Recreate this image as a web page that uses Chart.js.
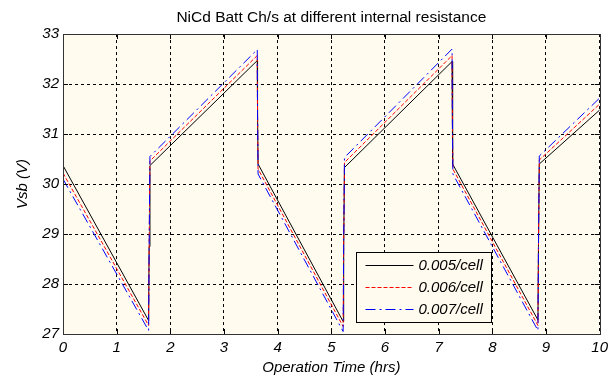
<!DOCTYPE html>
<html>
<head>
    <meta charset="utf-8">
    <title>NiCd Batt Ch/s at different internal resistance</title>
    <script src="https://cdn.jsdelivr.net/npm/chart.js@4.4.1/dist/chart.umd.min.js"></script>
    <style>
        html, body { margin: 0; padding: 0; background: #ffffff; }
        #battChart { display: block; }
    </style>
</head>
<body>
    <canvas id="battChart" width="613" height="377"></canvas>

    <script>
        // values
        const timeHrs = [0, 1.595, 1.605, 1.62, 3.62, 3.625, 3.635, 5.22, 5.23, 5.245, 7.25, 7.255, 7.265, 8.85, 8.86, 8.875, 10];
        const v005 = [30.37, 27.27, 28.75, 30.37, 32.47, 31.43, 30.40, 27.25, 28.75, 30.33, 32.45, 31.43, 30.40, 27.28, 28.75, 30.40, 31.48];
        const v006 = [30.22, 27.17, 28.75, 30.46, 32.57, 31.43, 30.30, 27.15, 28.75, 30.43, 32.57, 31.43, 30.30, 27.17, 28.75, 30.48, 31.60];
        const v007 = [30.10, 27.07, 28.75, 30.55, 32.69, 31.43, 30.20, 27.05, 28.75, 30.53, 32.70, 31.43, 30.20, 27.07, 28.75, 30.56, 31.72];
        const seriesLabels = ['0.005/cell', '0.006/cell', '0.007/cell'];
        const xTicks = [0, 1, 2, 3, 4, 5, 6, 7, 8, 9, 10];
        const yTicks = [27, 28, 29, 30, 31, 32, 33];

        const FONT = '"Liberation Sans", Arial, Helvetica, sans-serif';
        const PLOT_BG = '#fffbee';

        function toPoints(ys) {
            return ys.map((y, i) => ({ x: timeHrs[i], y: y }));
        }

        // beige plot background, box with inside ticks, legend inside the plot
        const matlabLook = {
            id: 'matlabLook',
            beforeDraw(chart) {
                const a = chart.chartArea;
                const ctx = chart.ctx;
                ctx.save();
                ctx.fillStyle = PLOT_BG;
                ctx.fillRect(a.left, a.top, a.right - a.left, a.bottom - a.top);
                ctx.restore();
            },
            afterDatasetsDraw(chart) {
                const a = chart.chartArea;
                const ctx = chart.ctx;
                const xs = chart.scales.x;
                const ys = chart.scales.y;
                ctx.save();
                ctx.setLineDash([]);
                ctx.strokeStyle = '#000';
                ctx.lineWidth = 1;
                ctx.beginPath();
                xs.ticks.forEach(t => {
                    const px = Math.round(xs.getPixelForValue(t.value)) + 0.5;
                    ctx.moveTo(px, a.bottom); ctx.lineTo(px, a.bottom - 5);
                    ctx.moveTo(px, a.top); ctx.lineTo(px, a.top + 5);
                });
                ys.ticks.forEach(t => {
                    const py = Math.round(ys.getPixelForValue(t.value)) + 0.5;
                    ctx.moveTo(a.left, py); ctx.lineTo(a.left + 5, py);
                    ctx.moveTo(a.right, py); ctx.lineTo(a.right - 5, py);
                });
                ctx.stroke();
                ctx.strokeStyle = '#333';
                ctx.strokeRect(Math.round(a.left) + 0.5, Math.round(a.top) + 0.5,
                    Math.round(a.right - a.left), Math.round(a.bottom - a.top));

                // legend box
                const bx = Math.round(a.right - 244) + 0.5;
                const by = Math.round(a.bottom - 82) + 0.5;
                const bw = 135, bh = 70;
                ctx.fillStyle = PLOT_BG;
                ctx.fillRect(bx, by, bw, bh);
                ctx.strokeStyle = '#000';
                ctx.strokeRect(bx, by, bw, bh);
                ctx.font = 'italic 15px ' + FONT;
                ctx.textBaseline = 'middle';
                ctx.textAlign = 'left';
                chart.data.datasets.forEach((ds, i) => {
                    const ly = Math.round(by + 12 + i * 22) + 0.5;
                    ctx.strokeStyle = ds.borderColor;
                    ctx.lineWidth = 1;
                    ctx.setLineDash(ds.borderDash || []);
                    ctx.beginPath();
                    ctx.moveTo(bx + 9, ly);
                    ctx.lineTo(bx + 57, ly);
                    ctx.stroke();
                    ctx.setLineDash([]);
                    ctx.fillStyle = '#000';
                    ctx.fillText(ds.label, bx + 62, ly);
                });
                ctx.restore();
            }
        };

        const ctx = document.getElementById('battChart').getContext('2d');
        new Chart(ctx, {
            type: 'scatter',
            data: {
                datasets: [
                    {
                        label: seriesLabels[0],
                        data: toPoints(v005),
                        showLine: true,
                        borderColor: '#000000',
                        borderWidth: 1,
                        pointRadius: 0,
                        order: 2
                    },
                    {
                        label: seriesLabels[1],
                        data: toPoints(v006),
                        showLine: true,
                        borderColor: '#ff0000',
                        borderWidth: 1,
                        borderDash: [4, 2],
                        pointRadius: 0,
                        order: 1
                    },
                    {
                        label: seriesLabels[2],
                        data: toPoints(v007),
                        showLine: true,
                        borderColor: '#0000ff',
                        borderWidth: 1,
                        borderDash: [10, 4, 2, 4],
                        pointRadius: 0,
                        order: 0
                    }
                ]
            },
            options: {
                responsive: false,
                animation: false,
                devicePixelRatio: 1,
                layout: { padding: { left: 0, right: 11, top: 0, bottom: 0 } },
                plugins: {
                    legend: { display: false },
                    tooltip: { enabled: false },
                    title: {
                        display: true,
                        text: 'NiCd Batt Ch/s at different internal resistance',
                        fullSize: false,
                        color: '#000',
                        font: { family: FONT, size: 15.5, weight: 'normal', lineHeight: 1.1 },
                        padding: { top: 9, bottom: 8 }
                    }
                },
                scales: {
                    x: {
                        type: 'linear',
                        min: 0,
                        max: 10,
                        afterFit(scale) { scale.height = 43; },
                        afterBuildTicks(scale) { scale.ticks = xTicks.map(v => ({ value: v })); },
                        ticks: {
                            color: '#000',
                            padding: 5,
                            maxRotation: 0,
                            font: { family: FONT, size: 15, style: 'italic' }
                        },
                        grid: { color: '#000', lineWidth: 1, drawTicks: false },
                        border: { display: false, dash: [3, 3] },
                        title: {
                            display: true,
                            text: 'Operation Time (hrs)',
                            color: '#000',
                            font: { family: FONT, size: 15, style: 'italic' },
                            padding: { top: 2, bottom: 0 }
                        }
                    },
                    y: {
                        type: 'linear',
                        min: 27,
                        max: 33,
                        afterFit(scale) { scale.width = 63; },
                        afterBuildTicks(scale) { scale.ticks = yTicks.map(v => ({ value: v })); },
                        ticks: {
                            color: '#000',
                            padding: 4,
                            font: { family: FONT, size: 15, style: 'italic' }
                        },
                        grid: { color: '#000', lineWidth: 1, drawTicks: false },
                        border: { display: false, dash: [3, 3] },
                        title: {
                            display: true,
                            text: 'Vsb (V)',
                            color: '#000',
                            font: { family: FONT, size: 15, style: 'italic' },
                            padding: { top: 14, bottom: 0 }
                        }
                    }
                }
            },
            plugins: [matlabLook]
        });
    </script>
</body>
</html>
